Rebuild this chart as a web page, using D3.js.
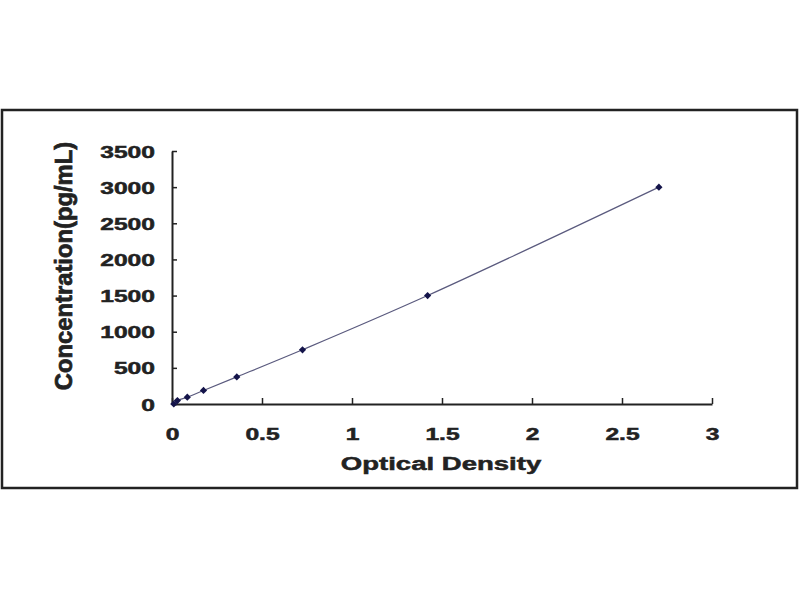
<!DOCTYPE html>
<html>
<head>
<meta charset="utf-8">
<script src="https://cdn.jsdelivr.net/npm/d3@7"></script>
<style>
  body { margin: 0; background: #fff; }
  text { font-family: "Liberation Sans", Arial, sans-serif; font-weight: bold; fill: #222; stroke: #222; stroke-width: 0.5; }
</style>
</head>
<body>
<svg id="chart"></svg>
<script>
// standard curve points
const opticalDensity = [0.01, 0.03, 0.085, 0.175, 0.36, 0.725, 1.42, 2.705];
const concentration = [0, 46.88, 93.75, 187.5, 375, 750, 1500, 3000];
const xTicks = [0, 0.5, 1, 1.5, 2, 2.5, 3];
const yTicks = [0, 500, 1000, 1500, 2000, 2500, 3000, 3500];

const svgWidth = 800;
const svgHeight = 600;
const stretch = 1.45; // the picture's text is wide

const svg = d3.select("#chart")
  .attr("width", svgWidth)
  .attr("height", svgHeight);

// outer frame
svg.append("rect")
  .attr("x", 2).attr("y", 110)
  .attr("width", 795).attr("height", 378)
  .attr("fill", "#fff")
  .attr("stroke", "#222")
  .attr("stroke-width", 2.5);

const xScale = d3.scaleLinear().domain([0, 3]).range([172, 712]);
const yScale = d3.scaleLinear().domain([0, 3500]).range([404, 151]);

const xAxis = d3.axisBottom(xScale)
  .tickValues(xTicks)
  .tickFormat(d3.format("~g"))
  .tickSizeInner(-6)
  .tickSizeOuter(0);

const yAxis = d3.axisLeft(yScale)
  .tickValues(yTicks)
  .tickFormat(d3.format("d"))
  .tickSizeInner(-5)
  .tickSizeOuter(0);

const gx = svg.append("g")
  .attr("transform", "translate(0,404)")
  .call(xAxis);

const gy = svg.append("g")
  .attr("transform", "translate(172,0)")
  .call(yAxis);

[gx, gy].forEach(g => {
  g.select(".domain").attr("stroke", "#222").attr("stroke-width", 2);
  g.selectAll(".tick line").attr("stroke", "#222").attr("stroke-width", 1.5);
  g.selectAll(".tick text").attr("font-size", 17).attr("fill", "#222");
});

gx.selectAll(".tick text")
  .attr("y", 0).attr("dy", 0)
  .attr("transform", `translate(0,36) scale(${stretch},1)`);

gy.selectAll(".tick text")
  .attr("x", 0).attr("dy", "0.36em")
  .attr("transform", `translate(-17,0) scale(${stretch},1)`);

// fitted curve
const points = opticalDensity.map((od, i) => [od, concentration[i]]);

svg.append("path")
  .datum(points)
  .attr("fill", "none")
  .attr("stroke", "#5a5a7e")
  .attr("stroke-width", 1.2)
  .attr("d", d3.line()
    .x(d => xScale(d[0]))
    .y(d => yScale(d[1]))
    .curve(d3.curveCatmullRom));

svg.selectAll(".marker")
  .data(points)
  .enter()
  .append("path")
  .attr("class", "marker")
  .attr("d", d3.symbol(d3.symbolSquare, 26))
  .attr("transform", d => `translate(${xScale(d[0])},${yScale(d[1])}) rotate(45)`)
  .attr("fill", "#14144a");

// axis titles
svg.append("text")
  .attr("text-anchor", "middle")
  .attr("font-size", 19)
  .attr("transform", `translate(441,470) scale(${stretch},1)`)
  .text("Optical Density");

svg.append("text")
  .attr("text-anchor", "middle")
  .attr("font-size", 17)
  .attr("transform", "translate(72,266) rotate(-90) scale(1.4,1.45)")
  .text("Concentration(pg/mL)");
</script>
</body>
</html>
